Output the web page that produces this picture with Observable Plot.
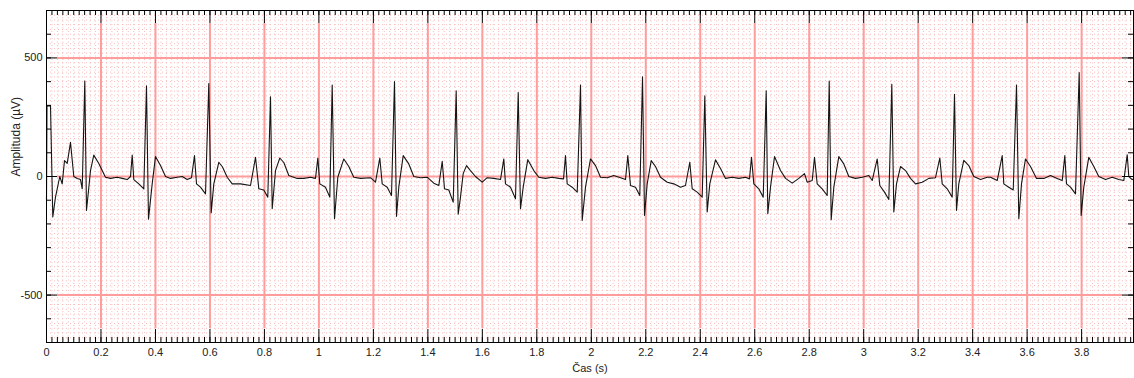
<!DOCTYPE html>
<html><head><meta charset="utf-8">
<script src="https://cdn.jsdelivr.net/npm/d3@7"></script>
<script src="https://cdn.jsdelivr.net/npm/@observablehq/plot@0.6"></script>
<style>body{margin:0;background:#fff} svg{display:block}</style>
</head><body><div id="chart"></div>
<script>
// ---- data ----
const xTickValues = [0,0.2,0.4,0.6,0.8,1,1.2,1.4,1.6,1.8,2,2.2,2.4,2.6,2.8,3,3.2,3.4,3.6,3.8];
const xTickLabels = ["0","0.2","0.4","0.6","0.8","1","1.2","1.4","1.6","1.8","2","2.2","2.4","2.6","2.8","3","3.2","3.4","3.6","3.8"];
const yTickValues = [-500, 0, 500];
const yTickLabels = ["-500", "0", "500"];
const xLabel = "Čas (s)";
const yLabel = "Amplituda (µV)";

// time (s) of each read point of the trace
const time = [
0,0.0018,0.0147,0.0231,0.0330,0.0488,0.0576,0.0661,0.0760,0.0881,0.1002,0.1127,0.1248,0.1311,0.1406,0.1468,
0.1542,0.1615,0.1736,0.1920,0.2045,0.2166,0.2349,0.2595,0.2779,0.2963,0.3084,0.3146,0.3205,0.3388,0.3572,0.3671,0.3744,
0.3880,0.4001,0.4185,0.4369,0.4552,0.4798,0.4982,0.5165,0.5323,0.5433,0.5507,0.5653,0.5837,0.5958,0.6046,
0.6142,0.6325,0.6461,0.6634,0.6817,0.7122,0.7489,0.7673,0.7794,0.7977,0.8124,0.8223,0.8286,
0.8407,0.8565,0.8712,0.8895,0.9204,0.9446,0.9692,0.9875,0.9960,1.0033,1.0242,1.0400,1.0488,1.0573,
1.0694,1.0914,1.1098,1.1281,1.1527,1.1894,1.2078,1.2236,1.2324,1.2507,1.2665,1.2775,1.2849,
1.2933,1.3095,1.3300,1.3484,1.3730,1.3976,1.4218,1.4402,1.4527,1.4611,1.4769,1.4930,1.5040,1.5114,
1.5198,1.5297,1.5419,1.5565,1.5749,1.5995,1.6178,1.6421,1.6667,1.6788,1.6850,1.7034,1.7217,1.7317,1.7401,
1.7500,1.7669,1.7889,1.8073,1.8319,1.8565,1.8807,1.8980,1.9053,1.9115,1.9299,1.9483,1.9604,1.9666,
1.9787,1.9971,2.0154,2.0338,2.0584,2.0826,2.1072,2.1256,2.1340,2.1439,2.1623,2.1780,2.1880,2.1953,
2.2052,2.2199,2.2357,2.2540,2.2786,2.3029,2.3275,2.3458,2.3616,2.3704,2.3888,2.4071,2.4167,2.4255,
2.4350,2.4559,2.4743,2.4927,2.5173,2.5415,2.5661,2.5808,2.5881,2.5966,2.6149,2.6311,2.6421,2.6480,
2.6579,2.6726,2.6946,2.7130,2.7376,2.7618,2.7827,2.7926,2.8110,2.8194,2.8293,2.8477,2.8660,2.8734,2.8807,
2.8903,2.9086,2.9270,2.9453,2.9699,2.9945,3.0188,3.0312,3.0496,3.0591,3.0764,3.0922,3.1032,3.1106,
3.1204,3.1351,3.1535,3.1718,3.1902,3.2148,3.2390,3.2636,3.2794,3.2882,3.3066,3.3249,3.3333,3.3407,
3.3491,3.3675,3.3858,3.4042,3.4288,3.4534,3.4655,3.4901,3.5085,3.5143,3.5327,3.5489,3.5610,3.5694,
3.5793,3.5940,3.6123,3.6344,3.6612,3.6858,3.7104,3.7288,3.7383,3.7445,3.7592,3.7775,3.7911,3.7984,
3.8080,3.8263,3.8447,3.8631,3.8877,3.9123,3.9366,3.9549,3.9674,3.9732,3.9857,3.9978
];
// amplitude (µV) at each read point
const amplitude = [
-100,298,298,-171,-87,0,-31,67,55,144,0,-8,-13,-52,403,-143,
-60,25,90,55,25,-3,-8,-3,-8,-13,0,90,-13,-31,-52,382,-180,
-31,84,46,0,-8,-3,0,-13,-5,88,-31,-45,-73,392,-154,
-31,60,40,-3,-31,-31,-38,81,-52,-57,-87,336,-136,
25,78,59,4,-8,-8,-3,-8,78,-31,-45,-87,386,-178,
-3,74,42,-3,-8,-5,-24,78,-31,-45,-80,400,-168,
-45,88,53,0,-5,-3,-28,-38,64,-52,-57,-108,361,-159,
-87,12,46,25,0,-24,-5,-8,-13,74,-31,-45,-94,354,-136,
-45,71,25,-3,-8,-3,-8,-10,88,-31,-45,-66,386,-185,
-45,74,46,-3,-5,4,-5,-13,88,-38,-45,-80,420,-164,
-31,67,42,-3,-24,-31,-45,-38,60,-52,-66,-87,340,-150,
-31,70,34,-8,-3,-8,-3,-10,81,-31,-52,-87,361,-157,
-45,84,25,-8,-28,-8,12,-24,-17,81,-31,-52,-80,403,-182,
-45,84,53,0,-8,-3,4,-17,74,-38,-66,-97,389,-150,
-31,42,25,-8,-31,-24,-8,-5,78,-31,-52,-87,347,-143,
-31,68,46,0,-13,-3,-3,-17,88,-31,-45,-57,386,-178,
-31,74,42,-8,-8,4,-8,-17,88,-31,-45,-73,438,-164,
-45,81,42,0,-13,-3,-13,-17,92,0,-13,-8
];

const ecg = time.map((t, i) => ({t, v: amplitude[i]}));

// ---- layout / styling ----
const W = 1134, H = 378;
const mT = 10, mB = 36, mL = 46, mR = 1;
const innerH = H - mT - mB, innerW = W - mL - mR;
const xMax = (W - mR - mL) / 272.4;
const xMinor = d3.range(0, 200).map(i => i / 50);
const yMinor = d3.range(-35, 36).map(i => i * 20);
const yHundreds = d3.range(-7, 8).map(i => i * 100);
const xMajorInner = xTickValues.filter(d => d > 0);
const pink = "#ff9c9c";
const dotPink = "#f8bcbc";
const font = "'Liberation Sans', Arial, sans-serif";

const chart = Plot.plot({
  width: W, height: H,
  marginTop: mT, marginBottom: mB, marginLeft: mL, marginRight: mR,
  style: {fontFamily: font, fontSize: "11px", background: "#fff", color: "#222"},
  x: {domain: [0, xMax]},
  y: {domain: [-700, 700]},
  marks: [
    // fine dotted millimetre grid
    Plot.ruleX(xMinor, {stroke: dotPink, strokeDasharray: "1,2.5", strokeWidth: 1}),
    Plot.ruleY(yMinor, {stroke: dotPink, strokeDasharray: "1,3", strokeWidth: 1}),
    // major grid
    Plot.ruleX(xMajorInner, {stroke: pink, strokeWidth: 2, insetTop: 13, insetBottom: 14}),
    Plot.ruleY(yTickValues, {stroke: pink, strokeWidth: 2, insetLeft: 11, insetRight: 11}),
    // trace
    Plot.line(ecg, {x: "t", y: "v", stroke: "#151515", strokeWidth: 1.1}),
    // inward ticks
    Plot.ruleX(xMinor, {stroke: "#000", insetTop: innerH - 5}),
    Plot.ruleX(xMinor, {stroke: "#000", insetBottom: innerH - 5}),
    Plot.ruleX(xTickValues, {stroke: "#000", insetTop: innerH - 13}),
    Plot.ruleX(xTickValues, {stroke: "#000", insetBottom: innerH - 13}),
    Plot.ruleY(yHundreds, {stroke: "#000", insetRight: innerW - 5}),
    Plot.ruleY(yHundreds, {stroke: "#000", insetLeft: innerW - 5}),
    Plot.ruleY(yTickValues, {stroke: "#000", insetRight: innerW - 11}),
    Plot.ruleY(yTickValues, {stroke: "#000", insetLeft: innerW - 11}),
    Plot.frame({stroke: "#000", strokeWidth: 1}),
    // tick labels
    Plot.axisX({ticks: xTickValues, tickSize: 0, tickPadding: 6, label: null,
      tickFormat: d => xTickLabels[xTickValues.indexOf(d)], fontSize: 11}),
    Plot.axisY({ticks: yTickValues, tickSize: 0, tickPadding: 4, label: null,
      tickFormat: d => yTickLabels[yTickValues.indexOf(d)], fontSize: 11}),
    // axis titles
    Plot.text([xLabel], {frameAnchor: "bottom", dy: 29, fontSize: 11}),
    Plot.text([yLabel], {frameAnchor: "left", dx: -30, rotate: -90, fontSize: 12})
  ]
});
document.getElementById("chart").append(chart);
</script>
</body></html>
